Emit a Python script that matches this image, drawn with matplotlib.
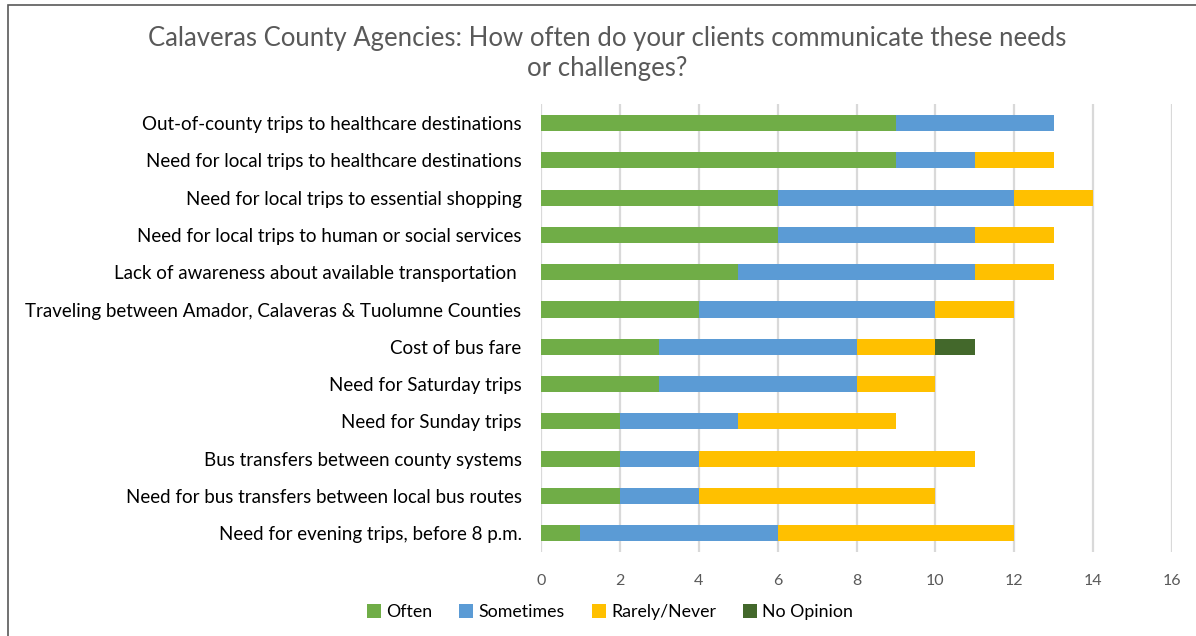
import matplotlib.pyplot as plt
import numpy as np

plt.rcParams["font.family"] = ["Lato", "DejaVu Sans"]

categories = [
    "Out-of-county trips to healthcare destinations",
    "Need for local trips to healthcare destinations",
    "Need for local trips to essential shopping",
    "Need for local trips to human or social services",
    "Lack of awareness about available transportation ",
    "Traveling between Amador, Calaveras & Tuolumne Counties",
    "Cost of bus fare",
    "Need for Saturday trips",
    "Need for Sunday trips",
    "Bus transfers between county systems",
    "Need for bus transfers between local bus routes",
    "Need for evening trips, before 8 p.m.",
]
often = [9, 9, 6, 6, 5, 4, 3, 3, 2, 2, 2, 1]
sometimes = [4, 2, 6, 5, 6, 6, 5, 5, 3, 2, 2, 5]
rarely = [0, 2, 2, 2, 2, 2, 2, 2, 4, 7, 6, 6]
no_opinion = [0, 0, 0, 0, 0, 0, 1, 0, 0, 0, 0, 0]

series = [
    ("Often", often, "#70AD47"),
    ("Sometimes", sometimes, "#5B9BD5"),
    ("Rarely/Never", rarely, "#FFC000"),
    ("No Opinion", no_opinion, "#43682B"),
]

fig = plt.figure(figsize=(11.96, 6.36), dpi=100)
ax = fig.add_axes([0.4523, 0.132, 0.5277, 0.704])

y = np.arange(len(categories))
left = np.zeros(len(categories))
for name, vals, color in series:
    vals = np.array(vals, dtype=float)
    ax.barh(y, vals, left=left, height=0.43, color=color, label=name, zorder=3)
    left += vals

ax.set_ylim(len(categories) - 0.5, -0.5)
ax.set_xlim(0, 16)
ax.set_xticks(range(0, 17, 2))
ax.set_yticks(y)
ax.set_yticklabels(categories, fontsize=13.5, color="#000000")
ax.tick_params(axis="x", colors="#595959", labelsize=11.5, length=0, pad=16)
ax.tick_params(axis="y", length=0, pad=14)
ax.grid(axis="x", color="#D9D9D9", linewidth=1.6, zorder=0)
for s in ax.spines.values():
    s.set_visible(False)

fig.text(0.5075, 0.916, "Calaveras County Agencies: How often do your clients communicate these needs\nor challenges?",
         ha="center", va="center", fontsize=18.5, color="#595959", linespacing=1.25)

fig.legend(loc="center", bbox_to_anchor=(0.51, 0.037), ncol=4, frameon=False,
           fontsize=12.8, handlelength=0.8, handleheight=0.8, handletextpad=0.3, columnspacing=1.5)

border = plt.Rectangle((0.007, -0.01), 1.1, 1.002, transform=fig.transFigure,
                       fill=False, edgecolor="#595959", linewidth=1.2)
fig.patches.append(border)

fig.savefig("out.png", dpi=100)
